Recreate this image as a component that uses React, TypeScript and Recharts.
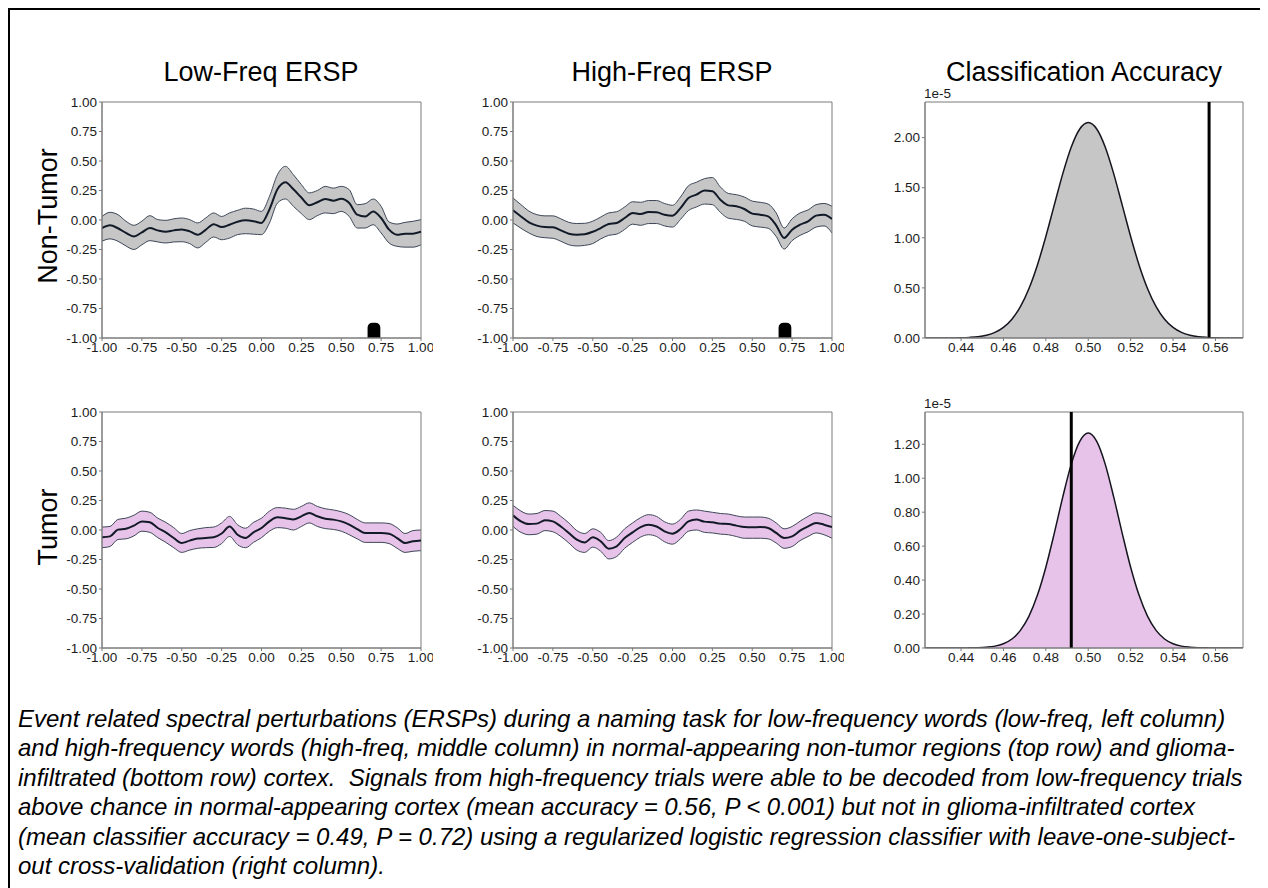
import React from 'react';
import {
  ComposedChart,
  Area,
  Line,
  XAxis,
  YAxis,
  ReferenceArea,
  ReferenceLine,
  Rectangle,
} from 'recharts';

// time axis (s) shared by all ERSP panels
const times = [
  -1, -0.95, -0.9, -0.85, -0.8, -0.75, -0.7, -0.65, -0.6, -0.55, -0.5,
  -0.45, -0.4, -0.35, -0.3, -0.25, -0.2, -0.15, -0.1, -0.05, 0,
  0.05, 0.1, 0.15, 0.2, 0.25, 0.3, 0.35, 0.4, 0.45, 0.5,
  0.55, 0.6, 0.65, 0.7, 0.75, 0.8, 0.85, 0.9, 0.95, 1,
];

// Non-tumor, low-frequency words
const lowNonMean = [
  -0.068, -0.045, -0.07, -0.11, -0.14, -0.105, -0.068, -0.088, -0.1, -0.088, -0.08,
  -0.096, -0.125, -0.083, -0.035, -0.06, -0.04, -0.015, -0.003, -0.01, -0.025,
  0.09, 0.26, 0.32, 0.26, 0.19, 0.125, 0.15, 0.178, 0.164, 0.18,
  0.144, 0.045, 0.03, 0.073, 0.017, -0.082, -0.125, -0.116, -0.116, -0.1,
];
const lowNonHi = [
  0.03, 0.065, 0.045, -0.01, -0.045, -0.01, 0.037, 0.003, -0.003, 0.01, 0.017,
  0.003, -0.025, 0.017, 0.06, 0.03, 0.06, 0.082, 0.1, 0.093, 0.073,
  0.2, 0.384, 0.455, 0.384, 0.3, 0.23, 0.25, 0.285, 0.27, 0.285,
  0.257, 0.13, 0.138, 0.178, 0.116, -0.017, -0.034, -0.02, -0.011, 0.003,
];
const lowNonLo = [
  -0.18, -0.16, -0.18, -0.22, -0.25, -0.21, -0.175, -0.186, -0.195, -0.186, -0.184,
  -0.2, -0.237, -0.19, -0.144, -0.167, -0.153, -0.124, -0.116, -0.12, -0.124,
  -0.025, 0.144, 0.178, 0.116, 0.054, 0.003, 0.037, 0.06, 0.054, 0.073,
  0.03, -0.068, -0.068, -0.04, -0.11, -0.195, -0.223, -0.23, -0.23, -0.21,
];

// Non-tumor, high-frequency words
const highNonMean = [
  0.082, 0.03, -0.02, -0.048, -0.06, -0.062, -0.088, -0.116, -0.124, -0.12, -0.1,
  -0.068, -0.034, -0.025, 0.017, 0.06, 0.05, 0.068, 0.065, 0.045, 0.037,
  0.1, 0.186, 0.215, 0.25, 0.243, 0.172, 0.124, 0.116, 0.093, 0.054,
  0.045, 0.03, -0.045, -0.152, -0.082, -0.04, -0.011, 0.037, 0.045, 0.008,
];
const highNonHi = [
  0.186, 0.13, 0.075, 0.045, 0.035, 0.035, 0.01, -0.02, -0.03, -0.028, -0.01,
  0.025, 0.06, 0.07, 0.11, 0.155, 0.15, 0.165, 0.165, 0.14, 0.125,
  0.195, 0.29, 0.32, 0.35, 0.36, 0.28, 0.225, 0.215, 0.195, 0.16,
  0.15, 0.135, 0.06, -0.068, 0.01, 0.06, 0.085, 0.13, 0.14, 0.116,
];
const highNonLo = [
  -0.025, -0.07, -0.11, -0.14, -0.15, -0.155, -0.18, -0.21, -0.22, -0.215, -0.2,
  -0.16, -0.13, -0.12, -0.08, -0.035, -0.045, -0.03, -0.03, -0.05, -0.06,
  0.005, 0.08, 0.11, 0.135, 0.13, 0.065, 0.015, 0.005, -0.01, -0.05,
  -0.06, -0.07, -0.14, -0.246, -0.175, -0.13, -0.1, -0.06, -0.05, -0.11,
];

// Tumor, low-frequency words
const lowTumMean = [
  -0.062, -0.054, 0.003, 0.011, 0.037, 0.073, 0.065, 0.017, -0.02, -0.068, -0.11,
  -0.09, -0.073, -0.068, -0.062, -0.03, 0.03, -0.04, -0.068, -0.02, 0.017,
  0.073, 0.107, 0.1, 0.088, 0.116, 0.144, 0.116, 0.096, 0.088, 0.073,
  0.045, 0.008, -0.025, -0.025, -0.025, -0.031, -0.068, -0.11, -0.096, -0.088,
];
const lowTumHi = [
  0.025, 0.03, 0.09, 0.1, 0.125, 0.16, 0.15, 0.1, 0.065, 0.02, -0.03,
  -0.005, 0.01, 0.02, 0.025, 0.06, 0.115, 0.045, 0.015, 0.065, 0.1,
  0.16, 0.19, 0.185, 0.175, 0.2, 0.23, 0.2, 0.18, 0.17, 0.155,
  0.13, 0.09, 0.06, 0.06, 0.06, 0.055, 0.02, -0.03, -0.005, 0.0,
];
const lowTumLo = [
  -0.15, -0.14, -0.08, -0.075, -0.05, -0.01, -0.02, -0.065, -0.105, -0.15, -0.19,
  -0.17, -0.155, -0.15, -0.148, -0.115, -0.055, -0.125, -0.15, -0.105, -0.065,
  -0.01, 0.02, 0.015, 0.0, 0.03, 0.06, 0.03, 0.012, 0.005, -0.01,
  -0.04, -0.075, -0.105, -0.105, -0.105, -0.115, -0.155, -0.19, -0.18, -0.175,
];

// Tumor, high-frequency words
const highTumMean = [
  0.124, 0.073, 0.05, 0.054, 0.082, 0.073, 0.03, -0.025, -0.082, -0.105, -0.062,
  -0.096, -0.158, -0.138, -0.068, -0.02, 0.025, 0.045, 0.03, -0.011, -0.031,
  0.008, 0.073, 0.088, 0.071, 0.065, 0.054, 0.05, 0.037, 0.025, 0.023,
  0.025, 0.017, -0.025, -0.068, -0.054, -0.006, 0.03, 0.06, 0.045, 0.025,
];
const highTumHi = [
  0.21, 0.16, 0.135, 0.14, 0.165, 0.16, 0.115, 0.06, -0.005, -0.03, 0.01,
  -0.02, -0.09, -0.06, 0.01, 0.06, 0.105, 0.13, 0.115, 0.07, 0.05,
  0.09, 0.16, 0.17, 0.16, 0.15, 0.14, 0.135, 0.12, 0.11, 0.11,
  0.11, 0.1, 0.06, 0.01, 0.03, 0.075, 0.115, 0.145, 0.135, 0.11,
];
const highTumLo = [
  0.03, -0.02, -0.04, -0.035, -0.005, -0.015, -0.055, -0.11, -0.17, -0.19, -0.145,
  -0.18, -0.245, -0.225, -0.155, -0.105, -0.06, -0.04, -0.055, -0.1, -0.12,
  -0.075, -0.01, 0.0, -0.02, -0.025, -0.035, -0.04, -0.055, -0.07, -0.07,
  -0.07, -0.075, -0.11, -0.155, -0.14, -0.09, -0.055, -0.025, -0.04, -0.07,
];

// significant window marker below the top-row traces
const sigWindow = [0.665, 0.745];
const sigTop = -0.87;

// classifier accuracy grid and null densities (x 1e-5)
const accGrid = [
  0.423, 0.424, 0.428, 0.432, 0.436, 0.44, 0.444, 0.448, 0.452, 0.456, 0.46,
  0.464, 0.468, 0.472, 0.476, 0.48, 0.484, 0.488, 0.492, 0.496, 0.5,
  0.504, 0.508, 0.512, 0.516, 0.52, 0.524, 0.528, 0.532, 0.536, 0.54,
  0.544, 0.548, 0.552, 0.556, 0.56, 0.564, 0.568, 0.572, 0.573,
];
const nonTumorDensity = [
  0, 0, 0, 0.0003, 0.001, 0.0025, 0.006, 0.013, 0.028, 0.056, 0.106,
  0.187, 0.313, 0.492, 0.727, 1.013, 1.328, 1.64, 1.906, 2.086, 2.15,
  2.086, 1.906, 1.64, 1.328, 1.013, 0.727, 0.492, 0.313, 0.187, 0.106,
  0.056, 0.028, 0.013, 0.006, 0.0025, 0.001, 0.0003, 0, 0,
];
const tumorDensity = [
  0, 0, 0, 0, 0, 0, 0.001, 0.002, 0.005, 0.011, 0.025,
  0.053, 0.104, 0.186, 0.31, 0.476, 0.677, 0.89, 1.083, 1.217, 1.266,
  1.217, 1.083, 0.89, 0.677, 0.476, 0.31, 0.186, 0.104, 0.053, 0.025,
  0.011, 0.005, 0.002, 0.001, 0, 0, 0, 0, 0,
];
const nonTumorObserved = 0.557;
const tumorObserved = 0.492;

const ersTicks = [-1, -0.75, -0.5, -0.25, 0, 0.25, 0.5, 0.75, 1];
const accTicks = [0.44, 0.46, 0.48, 0.5, 0.52, 0.54, 0.56];
const nonTumorDensityTicks = [0, 0.5, 1, 1.5, 2];
const tumorDensityTicks = [0, 0.2, 0.4, 0.6, 0.8, 1, 1.2];

const FONT = '"Liberation Sans", Arial, Helvetica, sans-serif';
const GRAY_FILL = '#c6c6c6';
const PINK_FILL = '#e8c3e9';
const BAND_EDGE = '#3c4757';
const MEAN_LINE = '#121a28';
const AXIS = '#7a7a7a';

// plot-area geometry (page px)
const COLS = [102, 513, 925];
const ROWS = [102, 412];
const PW = 319;
const PH = 236;
const YW = 50;
const XH = 30;
const MT = 10;
const MR = 12;

const fmt = (v: number) => v.toFixed(2);
const tickStyle = { fontSize: 13.5, fill: '#1c1c1c', fontFamily: FONT };

type ErspProps = {
  x: number;
  y: number;
  mean: number[];
  lo: number[];
  hi: number[];
  fill: string;
  marker?: boolean;
};

function ErspPanel({ x, y, mean, lo, hi, fill, marker }: ErspProps) {
  const data = times.map((t, i) => ({ t, m: mean[i], band: [lo[i], hi[i]] }));
  return (
    <div style={{ position: 'absolute', left: x - 8 - YW, top: y - 8 - MT }}>
      <ComposedChart
        width={YW + PW + MR}
        height={MT + PH + XH}
        data={data}
        margin={{ top: MT, right: MR, bottom: 0, left: 0 }}
      >
        <XAxis
          type="number"
          dataKey="t"
          domain={[-1, 1]}
          ticks={ersTicks}
          interval={0}
          tickFormatter={fmt}
          height={XH}
          tickSize={3}
          tickMargin={1}
          tick={tickStyle}
          stroke={AXIS}
          allowDataOverflow
        />
        <YAxis
          type="number"
          domain={[-1, 1]}
          ticks={ersTicks}
          interval={0}
          tickFormatter={fmt}
          width={YW}
          tickSize={3}
          tickMargin={2}
          tick={tickStyle}
          stroke={AXIS}
          allowDataOverflow
        />
        <Area
          dataKey="band"
          type="monotone"
          fill={fill}
          fillOpacity={1}
          stroke={BAND_EDGE}
          strokeWidth={1}
          isAnimationActive={false}
        />
        <Line
          dataKey="m"
          type="monotone"
          stroke={MEAN_LINE}
          strokeWidth={2}
          dot={false}
          isAnimationActive={false}
        />
        {marker && (
          <ReferenceArea
            x1={sigWindow[0]}
            x2={sigWindow[1]}
            y1={-1}
            y2={sigTop}
            fill="#000"
            fillOpacity={1}
            stroke="none"
            shape={(p: any) => <Rectangle {...p} radius={[5, 5, 0, 0]} />}
          />
        )}
        <ReferenceArea x1={-1} x2={1} y1={-1} y2={1} fill="none" stroke={AXIS} strokeWidth={1} />
      </ComposedChart>
    </div>
  );
}

type AccProps = {
  x: number;
  y: number;
  density: number[];
  yMax: number;
  yTicks: number[];
  observed: number;
  fill: string;
};

function AccuracyPanel({ x, y, density, yMax, yTicks, observed, fill }: AccProps) {
  const data = accGrid.map((a, i) => ({ a, d: density[i] }));
  const dom: [number, number] = [accGrid[0], accGrid[accGrid.length - 1]];
  return (
    <div style={{ position: 'absolute', left: x - 8 - YW, top: y - 8 - MT }}>
      <ComposedChart
        width={YW + PW - 1 + MR}
        height={MT + PH + XH}
        data={data}
        margin={{ top: MT, right: MR, bottom: 0, left: 0 }}
      >
        <XAxis
          type="number"
          dataKey="a"
          domain={dom}
          ticks={accTicks}
          interval={0}
          tickFormatter={fmt}
          height={XH}
          tickSize={3}
          tickMargin={1}
          tick={tickStyle}
          stroke={AXIS}
          allowDataOverflow
        />
        <YAxis
          type="number"
          domain={[0, yMax]}
          ticks={yTicks}
          interval={0}
          tickFormatter={fmt}
          width={YW}
          tickSize={3}
          tickMargin={2}
          tick={tickStyle}
          stroke={AXIS}
          allowDataOverflow
        />
        <Area
          dataKey="d"
          type="monotone"
          fill={fill}
          fillOpacity={1}
          stroke="#15151f"
          strokeWidth={1.5}
          isAnimationActive={false}
        />
        <ReferenceLine x={observed} stroke="#000" strokeWidth={3} />
        <ReferenceArea x1={dom[0]} x2={dom[1]} y1={0} y2={yMax} fill="none" stroke={AXIS} strokeWidth={1} />
      </ComposedChart>
    </div>
  );
}

const titleStyle: React.CSSProperties = {
  position: 'absolute',
  width: 400,
  textAlign: 'center',
  fontFamily: FONT,
  fontSize: 27,
  lineHeight: '30px',
  color: '#000',
  whiteSpace: 'nowrap',
};

const rowLabelStyle: React.CSSProperties = {
  position: 'absolute',
  width: 200,
  height: 30,
  textAlign: 'center',
  fontFamily: FONT,
  fontSize: 27,
  lineHeight: '30px',
  color: '#000',
  transform: 'rotate(-90deg)',
  whiteSpace: 'nowrap',
};

const expStyle: React.CSSProperties = {
  position: 'absolute',
  fontFamily: FONT,
  fontSize: 13.5,
  lineHeight: '16px',
  color: '#1c1c1c',
  whiteSpace: 'nowrap',
};

const captionLines = [
  'Event related spectral perturbations (ERSPs) during a naming task for low-frequency words (low-freq, left column)',
  'and high-frequency words (high-freq, middle column) in normal-appearing non-tumor regions (top row) and glioma-',
  'infiltrated (bottom row) cortex.  Signals from high-frequency trials were able to be decoded from low-frequency trials',
  'above chance in normal-appearing cortex (mean accuracy = 0.56, P < 0.001) but not in glioma-infiltrated cortex',
  '(mean classifier accuracy = 0.49, P = 0.72) using a regularized logistic regression classifier with leave-one-subject-',
  'out cross-validation (right column).',
];

export default function App() {
  // the figure box runs to the page's right and bottom edges, so only its
  // top and left borders show
  return (
    <div
      style={{
        position: 'relative',
        width: 1260,
        height: 880,
        background: '#fff',
        overflow: 'hidden',
        borderTop: '2px solid #000',
        borderLeft: '2px solid #000',
        boxSizing: 'border-box',
      }}
    >
      <div style={{ position: 'absolute', left: -2, top: -2, width: 1260, height: 880 }}>
        <div style={{ ...titleStyle, left: 261 - 8 - 200, top: 49 }}>Low-Freq ERSP</div>
        <div style={{ ...titleStyle, left: 672 - 8 - 200, top: 49 }}>High-Freq ERSP</div>
        <div style={{ ...titleStyle, left: 1084 - 8 - 200, top: 49 }}>Classification Accuracy</div>

        <div style={{ ...rowLabelStyle, left: 48 - 8 - 100, top: 216 - 8 - 15 }}>Non-Tumor</div>
        <div style={{ ...rowLabelStyle, left: 48 - 8 - 100, top: 527 - 8 - 15 }}>Tumor</div>

        <ErspPanel x={COLS[0]} y={ROWS[0]} mean={lowNonMean} lo={lowNonLo} hi={lowNonHi} fill={GRAY_FILL} marker />
        <ErspPanel x={COLS[1]} y={ROWS[0]} mean={highNonMean} lo={highNonLo} hi={highNonHi} fill={GRAY_FILL} marker />
        <AccuracyPanel
          x={COLS[2]}
          y={ROWS[0]}
          density={nonTumorDensity}
          yMax={2.355}
          yTicks={nonTumorDensityTicks}
          observed={nonTumorObserved}
          fill={GRAY_FILL}
        />
        <div style={{ ...expStyle, left: 924 - 8, top: 94 - 8 - 8 }}>1e-5</div>

        <ErspPanel x={COLS[0]} y={ROWS[1]} mean={lowTumMean} lo={lowTumLo} hi={lowTumHi} fill={PINK_FILL} />
        <ErspPanel x={COLS[1]} y={ROWS[1]} mean={highTumMean} lo={highTumLo} hi={highTumHi} fill={PINK_FILL} />
        <AccuracyPanel
          x={COLS[2]}
          y={ROWS[1]}
          density={tumorDensity}
          yMax={1.39}
          yTicks={tumorDensityTicks}
          observed={tumorObserved}
          fill={PINK_FILL}
        />
        <div style={{ ...expStyle, left: 924 - 8, top: 404 - 8 - 8 }}>1e-5</div>

        <div
          style={{
            position: 'absolute',
            left: 10,
            top: 696,
            fontFamily: FONT,
            fontStyle: 'italic',
            fontSize: 24,
            lineHeight: '29.4px',
            color: '#000',
          }}
        >
          {captionLines.map((l) => (
            <div key={l} style={{ whiteSpace: 'pre' }}>
              {l}
            </div>
          ))}
        </div>
      </div>
    </div>
  );
}
